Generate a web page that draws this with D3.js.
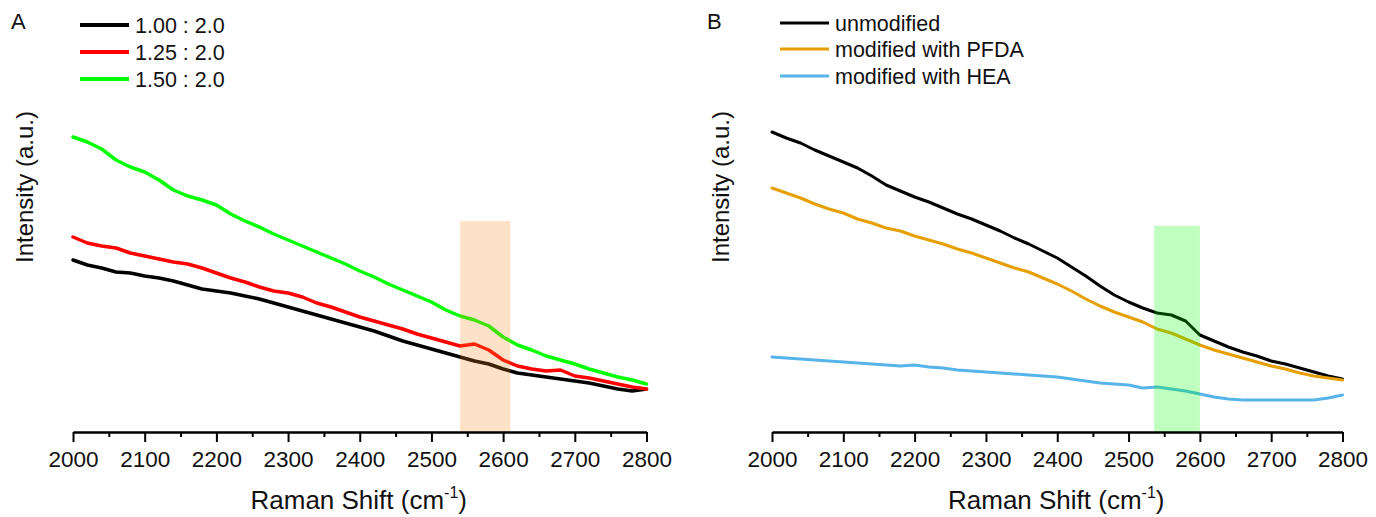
<!DOCTYPE html>
<html>
<head>
<meta charset="utf-8">
<script src="https://cdn.jsdelivr.net/npm/d3@7"></script>
<style>
  html, body { margin: 0; padding: 0; background: #fff; }
  svg { display: block; font-family: "Liberation Sans", Arial, sans-serif; }
</style>
</head>
<body>
<svg id="chart" width="1376" height="517"></svg>
<script>
// ---------- data ----------
const wavenumbers = d3.range(2000, 2801, 20); // Raman shift, cm-1 (41 points)
const xTicks = [2000, 2100, 2200, 2300, 2400, 2500, 2600, 2700, 2800];

// Panel A series (intensity, a.u.)
const seriesA_names = ["1.00 : 2.0", "1.25 : 2.0", "1.50 : 2.0"];
const seriesA_colors = ["#000000", "#ff0000", "#00ff00"];
const a100 = [172,167,164,160,159,156,154,151,147,143,141,139,136,133,129,125,121,117,113,109,105,101,96,91,87,83,79,75,71,68,63,59,57,55,53,51,49,46,43,41,43];
const a125 = [195,189,186,184,179,176,173,170,168,164,159,154,150,145,141,139,135,129,125,120,115,111,107,103,98,94,90,86,88,82,72,66,63,61,62,56,54,51,48,45,43];
const a150 = [295,290,283,272,265,260,252,242,236,232,227,218,211,205,198,192,186,180,174,168,161,155,148,142,136,130,122,116,112,106,95,87,82,76,72,68,63,59,55,52,48];
const highlightA = [2540, 2610];

// Panel B series (intensity, a.u.)
const seriesB_names = ["unmodified", "modified with PFDA", "modified with HEA"];
const seriesB_colors = ["#000000", "#e69f00", "#56b4e9"];
const bUnmod = [300,294,289,282,276,270,264,256,247,241,235,230,224,218,213,207,201,194,188,181,174,165,156,146,137,130,124,119,117,111,97,91,85,80,76,71,68,64,60,56,53];
const bPFDA  = [244,239,234,228,223,219,213,209,204,201,196,192,188,183,179,174,169,164,160,154,148,141,133,126,120,115,110,103,99,93,87,82,78,74,70,66,63,59,56,54,52];
const bHEA   = [75,74,73,72,71,70,69,68,67,66,67,65,64,62,61,60,59,58,57,56,55,53,51,49,48,47,44,45,43,41,38,35,33,32,32,32,32,32,32,34,37];
const highlightB = [2536, 2600];

const yDomain = [0, 330];

// ---------- drawing ----------
const svg = d3.select("#chart");

function panel(opts) {
  const g = svg.append("g");
  const x = d3.scaleLinear().domain([2000, 2800]).range([opts.x0, opts.x1]);
  const y = d3.scaleLinear().domain(yDomain).range([432, 102]);

  const line = d3.line().x((d, i) => x(wavenumbers[i])).y(d => y(d)).curve(d3.curveLinear);

  opts.series.forEach((s, i) => {
    g.append("path")
      .datum(s)
      .attr("d", line)
      .attr("fill", "none")
      .attr("stroke", opts.colors[i])
      .attr("stroke-width", opts.lw)
      .attr("stroke-linejoin", "round")
      .attr("stroke-linecap", "round");
  });

  // highlight band drawn over the lines
  g.append("rect")
    .attr("x", x(opts.band[0]))
    .attr("width", x(opts.band[1]) - x(opts.band[0]))
    .attr("y", y(opts.bandTop))
    .attr("height", y(0) - y(opts.bandTop))
    .attr("fill", opts.bandColor)
    .attr("fill-opacity", 0.25);

  // minor ticks
  const minor = g.append("g").attr("transform", "translate(0,432)")
    .call(d3.axisBottom(x).tickValues(d3.range(2050, 2800, 100)).tickSize(5).tickSizeOuter(0).tickFormat(""));
  minor.select(".domain").remove();
  minor.selectAll("line").attr("stroke", "#000").attr("stroke-width", 2);

  const ax = g.append("g").attr("transform", "translate(0,432)")
    .call(d3.axisBottom(x).tickValues(xTicks).tickSize(10).tickSizeOuter(0).tickFormat(d3.format("d")));
  ax.select(".domain").attr("stroke", "#000").attr("stroke-width", 2.5);
  ax.selectAll(".tick line").attr("stroke", "#000").attr("stroke-width", 2);
  ax.selectAll(".tick text")
    .attr("y", 35).attr("dy", 0)
    .attr("font-size", 22.5).attr("fill", "#111")
    .attr("font-family", "Liberation Sans, Arial, sans-serif");

  // x title
  const t = g.append("text")
    .attr("x", (opts.x0 + opts.x1) / 2 - 1)
    .attr("y", 509)
    .attr("text-anchor", "middle")
    .attr("font-size", 26)
    .attr("fill", "#111");
  t.append("tspan").text("Raman Shift (cm");
  t.append("tspan").attr("font-size", 16).attr("dy", -11).text("-1");
  t.append("tspan").attr("dy", 11).text(")");

  // y title
  g.append("text")
    .attr("transform", `translate(${opts.yTitleX},187) rotate(-90)`)
    .attr("text-anchor", "middle")
    .attr("dominant-baseline", "central")
    .attr("font-size", 24)
    .attr("fill", "#111")
    .text("Intensity (a.u.)");

  // panel letter
  g.append("text")
    .attr("x", opts.letterX).attr("y", 29)
    .attr("font-size", 22).attr("fill", "#111")
    .text(opts.letter);

  // legend
  opts.names.forEach((n, i) => {
    const ly = opts.legY[i];
    g.append("line")
      .attr("x1", opts.legX).attr("x2", opts.legX + 49)
      .attr("y1", ly).attr("y2", ly)
      .attr("stroke", opts.colors[i]).attr("stroke-width", opts.legLw);
    g.append("text")
      .attr("x", opts.legX + 55).attr("y", ly + 7.5)
      .attr("font-size", 21.5).attr("fill", "#111")
      .text(n);
  });
}

panel({
  x0: 73, x1: 646.5,
  series: [a100, a125, a150],
  colors: seriesA_colors, names: seriesA_names,
  lw: 3.5, band: highlightA, bandTop: 211, bandColor: "#fa8c1e",
  yTitleX: 24, letter: "A", letterX: 11,
  legX: 80, legY: [25, 52, 79], legLw: 4
});

panel({
  x0: 772, x1: 1342.5,
  series: [bUnmod, bPFDA, bHEA],
  colors: seriesB_colors, names: seriesB_names,
  lw: 3, band: highlightB, bandTop: 206, bandColor: "#00ff00",
  yTitleX: 720, letter: "B", letterX: 707,
  legX: 780, legY: [23, 49, 76], legLw: 3
});
</script>
</body>
</html>
